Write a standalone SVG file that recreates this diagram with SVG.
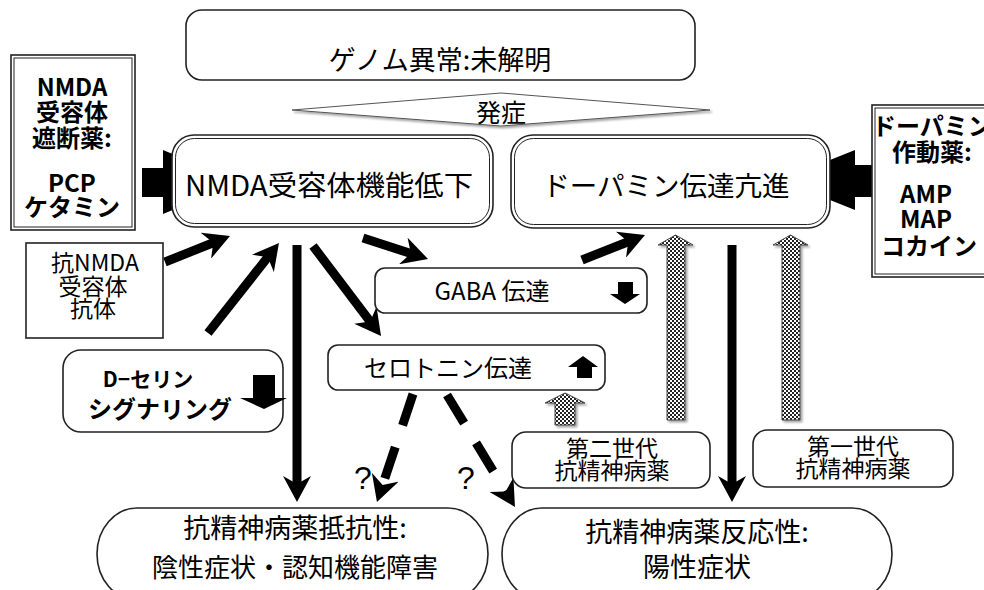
<svg xmlns="http://www.w3.org/2000/svg" width="984" height="590" viewBox="0 0 984 590">
<defs>
<style>
text{font-family:"Noto Sans CJK JP","Noto Sans",sans-serif;fill:#000;text-anchor:middle}
.b{font-weight:bold}
.q{font-family:"Liberation Sans",Arial,sans-serif}
.box{fill:#fff;stroke:#222;stroke-width:1.6}
.thin{fill:none;stroke:#222;stroke-width:1}
.ln{stroke:#000;stroke-width:9;fill:none;marker-end:url(#ah)}
.dash{stroke-dasharray:33 23}
.dot{fill:url(#chk);stroke:#444;stroke-width:1;filter:url(#sh)}
.blk{fill:#000}
</style>
<marker id="ah" markerUnits="userSpaceOnUse" markerWidth="28" markerHeight="28" viewBox="0 0 28 28" refX="12" refY="14" orient="auto">
<path d="M0,0 L26,14 L0,28 L8,14 Z" fill="#000"/>
</marker>
<pattern id="chk" patternUnits="userSpaceOnUse" width="4" height="4">
<rect width="4" height="4" fill="#fff"/>
<rect width="2" height="2" fill="#222"/>
<rect x="2" y="2" width="2" height="2" fill="#222"/>
</pattern>
<filter id="sh" x="-20%" y="-20%" width="140%" height="140%">
<feDropShadow dx="2" dy="2" stdDeviation="1.2" flood-color="#000" flood-opacity="0.35"/>
</filter>
</defs>

<g id="connectors">
<polygon class="blk" points="142,168 163,168 163,150 240,182 163,214 163,197 142,197"/>
<polygon class="blk" points="872,165 855,165 855,150 780,180 855,210 855,197 872,197"/>
<line class="ln" x1="165" y1="262" x2="217" y2="241.2"/>
<line class="ln" x1="208" y1="333" x2="270.3" y2="254"/>
<line class="ln" x1="297" y1="245" x2="297" y2="488"/>
<line class="ln" x1="313" y1="246" x2="372.6" y2="324.8"/>
<line class="ln" x1="363" y1="238" x2="414.7" y2="254.7"/>
<line class="ln" x1="582" y1="260" x2="632" y2="240.2"/>
<line class="ln" x1="732" y1="245" x2="732" y2="488"/>
<line class="ln dash" x1="413" y1="394" x2="381.4" y2="488.7"/>
<line class="ln dash" x1="447" y1="395" x2="507.7" y2="495"/>
<polygon class="dot" points="667,420 667,245 658,245 675.5,235 693,245 685,245 685,420"/>
<polygon class="dot" points="782,420 782,245 773,245 790.5,235 808,245 800,245 800,420"/>
<polygon class="dot" points="555,425 555,403 545,403 565,393 585,403 575,403 575,425"/>
</g>

<g id="genome">
<rect class="box" x="186" y="10" width="509" height="70" rx="16" stroke-width="2"/>
<text x="440" y="70" font-size="27">ゲノム異常:未解明</text>
</g>

<g id="onset">
<polygon points="292,110 501,93 710,110 501,126" fill="#fff" stroke="#555" stroke-width="1" filter="url(#sh)"/>
<text x="501" y="122" font-size="25">発症</text>
</g>

<g id="nmda-blocker">
<rect class="box" x="11" y="55" width="124" height="175"/>
<rect class="thin" x="14" y="58" width="118" height="169"/>
<text class="b" x="72" y="96" font-size="24">NMDA</text>
<text class="b" x="72" y="121" font-size="24">受容体</text>
<text class="b" x="72" y="147" font-size="24">遮断薬:</text>
<text class="b" x="72" y="192" font-size="24">PCP</text>
<text class="b" x="72" y="216" font-size="24">ケタミン</text>
</g>

<g id="nmda-hypo">
<rect class="box" x="172" y="135" width="321" height="92" rx="22"/>
<rect class="thin" x="175.5" y="138.5" width="314" height="85" rx="19"/>
<text x="329" y="196" font-size="28" textLength="288" lengthAdjust="spacingAndGlyphs">NMDA受容体機能低下</text>
</g>

<g id="dopamine">
<rect class="box" x="511" y="135" width="319" height="93" rx="22"/>
<rect class="thin" x="514.5" y="138.5" width="312" height="86" rx="19"/>
<text x="666" y="196" font-size="27.5">ドーパミン伝達亢進</text>
</g>

<g id="dopamine-agonist">
<rect class="box" x="872" y="105" width="122" height="172"/>
<rect class="thin" x="875" y="108" width="116" height="166"/>
<text class="b" x="932" y="135" font-size="24">ドーパミン</text>
<text class="b" x="932" y="161" font-size="24">作動薬:</text>
<text class="b" x="926" y="203" font-size="24">AMP</text>
<text class="b" x="926" y="228" font-size="24">MAP</text>
<text class="b" x="929" y="255" font-size="24">コカイン</text>
</g>

<g id="antibody">
<rect class="box" x="26" y="243" width="137" height="95"/>
<text x="95" y="271" font-size="23">抗NMDA</text>
<text x="93" y="295" font-size="23">受容体</text>
<text x="93" y="317" font-size="23">抗体</text>
</g>

<g id="d-serine">
<rect class="box" x="63" y="350" width="220" height="82" rx="18"/>
<text class="b" x="148" y="387" font-size="21">D−セリン</text>
<text class="b" x="160" y="418" font-size="24">シグナリング</text>
<polygon class="blk" points="253,375 275,375 275,398 287,398 264,409 240,398 253,398"/>
</g>

<g id="gaba">
<rect class="box" x="375" y="268" width="272" height="45" rx="10"/>
<text x="492" y="300" font-size="24">GABA 伝達</text>
<polygon class="blk" points="618,282 633,282 633,294 640,294 625,304 610,294 618,294"/>
</g>

<g id="serotonin">
<rect class="box" x="328" y="345" width="277" height="45" rx="10"/>
<text x="448" y="377" font-size="24">セロトニン伝達</text>
<polygon class="blk" points="577,378 592,378 592,367 598,367 583,356 568,367 577,367"/>
</g>

<g id="second-gen">
<rect class="box" x="512" y="432" width="198" height="56" rx="14"/>
<text x="612" y="457" font-size="23">第二世代</text>
<text x="612" y="479" font-size="23">抗精神病薬</text>
</g>

<g id="first-gen">
<rect class="box" x="753" y="430" width="200" height="57" rx="14"/>
<text x="853" y="455" font-size="23">第一世代</text>
<text x="853" y="477" font-size="23">抗精神病薬</text>
</g>

<g id="q-marks">
<text class="q" x="363" y="489" font-size="32">?</text>
<text class="q" x="466" y="489" font-size="32">?</text>
</g>

<g id="resistant">
<rect class="box" x="97" y="508" width="391" height="92" rx="40" ry="46"/>
<text x="295" y="538" font-size="27">抗精神病薬抵抗性:</text>
<text x="295" y="577" font-size="26">陰性症状・認知機能障害</text>
</g>

<g id="responsive">
<rect class="box" x="502" y="508" width="390" height="92" rx="40" ry="46"/>
<text x="697" y="542" font-size="27">抗精神病薬反応性:</text>
<text x="697" y="577" font-size="27">陽性症状</text>
</g>
</svg>
